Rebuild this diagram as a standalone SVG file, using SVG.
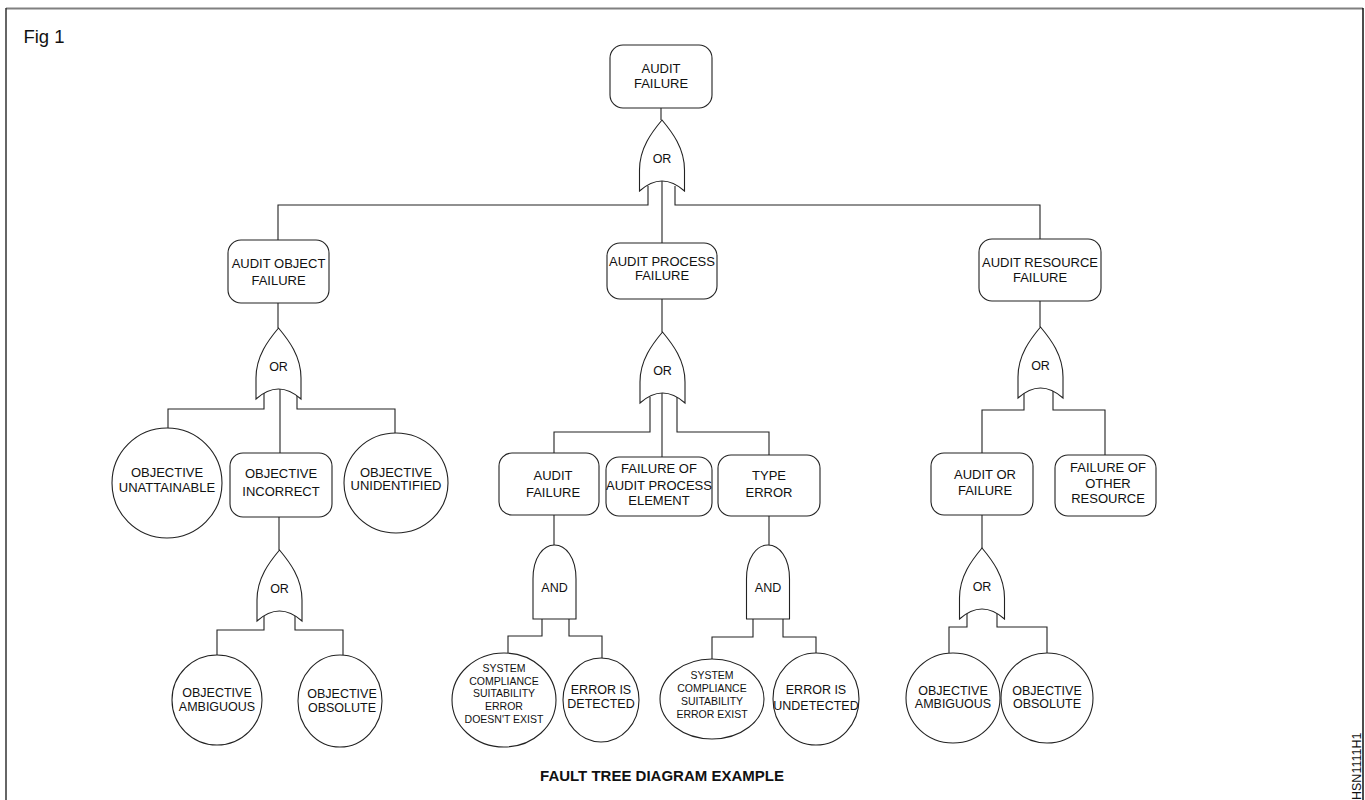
<svg xmlns="http://www.w3.org/2000/svg" xmlns:xlink="http://www.w3.org/1999/xlink" width="1365" height="800" viewBox="0 0 1365 800">
<style>
text{font-family:"Liberation Sans",Arial,sans-serif;fill:#111;text-anchor:middle}
.b{font-size:13px}
.c{font-size:12.5px}
.s{font-size:10.5px}
.g{font-size:12.5px}
.box{fill:#fff;stroke:#222;stroke-width:1.1}
.gate{fill:#fff;stroke:#222;stroke-width:1.1}
.ev{fill:#fff;stroke:#222;stroke-width:1.1}
#connectors path{fill:none;stroke:#222;stroke-width:1.1}
</style>
<defs>
<path id="orgate" d="M0,0 C10,12 22.5,28 22.5,50 L22.5,71 Q0,51 -22.5,71 L-22.5,50 C-22.5,28 -10,12 0,0Z"/>
<path id="andgate" d="M-21.5,74 L-21.5,34 C-21.5,12 -11,0 0,0 C11,0 21.5,12 21.5,34 L21.5,74Z"/>
</defs>
<rect width="1365" height="800" fill="#fff"/>
<g id="frame">
<line x1="6" y1="8.5" x2="1363" y2="8.5" stroke="#808080" stroke-width="2"/>
<line x1="6" y1="8" x2="6" y2="800" stroke="#333" stroke-width="1.5"/>
<line x1="1363" y1="8" x2="1363" y2="800" stroke="#111" stroke-width="1.5"/>
</g>
<text x="44" y="43" style="font-size:18.5px">Fig 1</text>
<g id="connectors">
<path d="M661,108 V120"/>
<path d="M648,186 V205 H278 V240"/>
<path d="M675,186 V205 H1040 V239"/>
<path d="M662,180 V243"/>
<path d="M278,303 V328"/>
<path d="M264,392 V409 H168 V428"/>
<path d="M297,392 V409 H395 V433"/>
<path d="M280,388 V453"/>
<path d="M279,517 V550"/>
<path d="M264,616 V630 H217 V655"/>
<path d="M295,616 V630 H343 V655"/>
<path d="M662,299 V332"/>
<path d="M650,397 V432 H554 V453"/>
<path d="M677,397 V432 H769 V455"/>
<path d="M662,392 V457"/>
<path d="M554,515 V545"/>
<path d="M542,615 V636 H508 V653"/>
<path d="M569,615 V636 H602 V658"/>
<path d="M769,516 V545"/>
<path d="M753,615 V637 H712 V659"/>
<path d="M783,615 V637 H816 V653"/>
<path d="M1040,301 V327"/>
<path d="M1024,391 V410 H982 V453"/>
<path d="M1053,391 V410 H1105 V455"/>
<path d="M982,515 V548"/>
<path d="M967,612 V627 H949 V653"/>
<path d="M997,612 V627 H1047 V653"/>
</g>
<g id="audit-failure-top"><rect class="box" x="610" y="45" width="102" height="63" rx="13"/><text class="b" x="661" y="72.5">AUDIT</text><text class="b" x="661" y="87.5">FAILURE</text></g>
<g id="gate-or-top"><use href="#orgate" class="gate" x="662" y="120"/><text class="g" x="662" y="162.5">OR</text></g>
<g id="audit-object-failure"><rect class="box" x="228" y="240" width="101" height="63" rx="13"/><text class="b" x="278.5" y="268">AUDIT OBJECT</text><text class="b" x="278.5" y="285">FAILURE</text></g>
<g id="audit-process-failure"><rect class="box" x="607" y="243" width="110" height="56" rx="13"/><text class="b" x="662" y="265.5">AUDIT PROCESS</text><text class="b" x="662" y="280">FAILURE</text></g>
<g id="audit-resource-failure"><rect class="box" x="979" y="239" width="122" height="62" rx="13"/><text class="b" x="1040" y="267">AUDIT RESOURCE</text><text class="b" x="1040" y="282">FAILURE</text></g>
<g id="gate-or-object"><use href="#orgate" class="gate" x="278.5" y="328"/><text class="g" x="278.5" y="370.5">OR</text></g>
<g id="gate-or-process"><use href="#orgate" class="gate" x="662.5" y="332"/><text class="g" x="662.5" y="374.5">OR</text></g>
<g id="gate-or-resource"><use href="#orgate" class="gate" x="1040.5" y="327"/><text class="g" x="1040.5" y="369.5">OR</text></g>
<g id="objective-unattainable"><circle class="ev" cx="167" cy="483" r="55"/><text class="b" x="167" y="476.5">OBJECTIVE</text><text class="b" x="167" y="491.5">UNATTAINABLE</text></g>
<g id="objective-incorrect"><rect class="box" x="230" y="453" width="102" height="64" rx="13"/><text class="b" x="281" y="478">OBJECTIVE</text><text class="b" x="281" y="496">INCORRECT</text></g>
<g id="objective-unidentified"><ellipse class="ev" cx="396" cy="483" rx="52" ry="50"/><text class="b" x="396" y="476.5">OBJECTIVE</text><text class="b" x="396" y="490">UNIDENTIFIED</text></g>
<g id="gate-or-incorrect"><use href="#orgate" class="gate" x="279.5" y="550"/><text class="g" x="279.5" y="592.5">OR</text></g>
<g id="objective-ambiguous-left"><circle class="ev" cx="217" cy="700" r="45"/><text class="c" x="217" y="696.5">OBJECTIVE</text><text class="c" x="217" y="710.5">AMBIGUOUS</text></g>
<g id="objective-obsolute-left"><ellipse class="ev" cx="340" cy="701" rx="42" ry="46"/><text class="c" x="342" y="697.5">OBJECTIVE</text><text class="c" x="342" y="711.5">OBSOLUTE</text></g>
<g id="audit-failure-mid"><rect class="box" x="499" y="453" width="100" height="62" rx="13"/><text class="b" x="553" y="480">AUDIT</text><text class="b" x="553" y="497">FAILURE</text></g>
<g id="failure-of-audit-process-element"><rect class="box" x="606" y="457" width="106" height="59" rx="13"/><text class="b" x="659" y="473">FAILURE OF</text><text class="b" x="659" y="490">AUDIT PROCESS</text><text class="b" x="659" y="505">ELEMENT</text></g>
<g id="type-error"><rect class="box" x="718" y="455" width="102" height="61" rx="13"/><text class="b" x="769" y="480">TYPE</text><text class="b" x="769" y="497">ERROR</text></g>
<g id="gate-and-left"><use href="#andgate" class="gate" x="554.5" y="545"/><text class="g" x="554.5" y="591.5">AND</text></g>
<g id="gate-and-right"><use href="#andgate" class="gate" x="768" y="545"/><text class="g" x="768" y="591.5">AND</text></g>
<g id="system-error-doesnt-exist"><ellipse class="ev" cx="504" cy="700" rx="52" ry="47"/><text class="s" x="504" y="672">SYSTEM</text><text class="s" x="504" y="685">COMPLIANCE</text><text class="s" x="504" y="697">SUITABILITY</text><text class="s" x="504" y="710">ERROR</text><text class="s" x="504" y="723">DOESN'T EXIST</text></g>
<g id="error-is-detected"><ellipse class="ev" cx="601" cy="700" rx="38" ry="42"/><text class="c" x="601" y="693.5">ERROR IS</text><text class="c" x="601" y="707.5">DETECTED</text></g>
<g id="system-error-exist"><ellipse class="ev" cx="712" cy="699" rx="52" ry="40"/><text class="s" x="712" y="679">SYSTEM</text><text class="s" x="712" y="692">COMPLIANCE</text><text class="s" x="712" y="705">SUITABILITY</text><text class="s" x="712" y="718">ERROR EXIST</text></g>
<g id="error-is-undetected"><ellipse class="ev" cx="816" cy="699" rx="43" ry="46"/><text class="c" x="816" y="693.5">ERROR IS</text><text class="c" x="816" y="709.5">UNDETECTED</text></g>
<g id="audit-or-failure"><rect class="box" x="931" y="453" width="102" height="62" rx="13"/><text class="b" x="985" y="479">AUDIT OR</text><text class="b" x="985" y="495">FAILURE</text></g>
<g id="failure-of-other-resource"><rect class="box" x="1055" y="455" width="101" height="61" rx="13"/><text class="b" x="1108" y="472">FAILURE OF</text><text class="b" x="1108" y="488">OTHER</text><text class="b" x="1108" y="503">RESOURCE</text></g>
<g id="gate-or-auditor"><use href="#orgate" class="gate" x="982" y="548"/><text class="g" x="982" y="590.5">OR</text></g>
<g id="objective-ambiguous-right"><ellipse class="ev" cx="953" cy="698" rx="47" ry="45"/><text class="c" x="953" y="694.5">OBJECTIVE</text><text class="c" x="953" y="707.5">AMBIGUOUS</text></g>
<g id="objective-obsolute-right"><ellipse class="ev" cx="1047" cy="698" rx="46" ry="45"/><text class="c" x="1047" y="694.5">OBJECTIVE</text><text class="c" x="1047" y="707.5">OBSOLUTE</text></g>
<text x="662" y="781" style="font-size:15px;font-weight:bold">FAULT TREE DIAGRAM EXAMPLE</text>
<text transform="translate(1361,800) rotate(-90)" style="font-size:12.5px;text-anchor:start">HSN1111H1</text>
</svg>
